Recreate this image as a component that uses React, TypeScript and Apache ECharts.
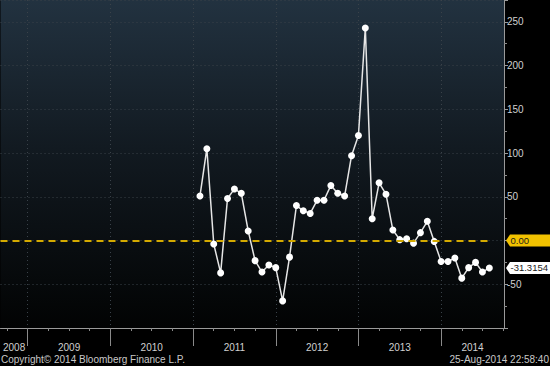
import React, { useEffect, useRef } from 'react';
import * as echarts from 'echarts';

const months: string[] = [
  '2011-02', '2011-03', '2011-04', '2011-05', '2011-06', '2011-07', '2011-08', '2011-09', '2011-10', '2011-11', '2011-12',
  '2012-01', '2012-02', '2012-03', '2012-04', '2012-05', '2012-06', '2012-07', '2012-08', '2012-09', '2012-10', '2012-11', '2012-12',
  '2013-01', '2013-02', '2013-03', '2013-04', '2013-05', '2013-06', '2013-07', '2013-08', '2013-09', '2013-10', '2013-11', '2013-12',
  '2014-01', '2014-02', '2014-03', '2014-04', '2014-05', '2014-06', '2014-07', '2014-08',
];
const values: number[] = [
  51, 105, -4, -37, 48, 59, 54, 11, -23, -36, -28,
  -31, -69, -19, 40, 34, 31, 46, 46, 63, 54, 51, 97,
  120, 243, 25, 66, 53, 12, 1, 2, -3, 9, 22, -1,
  -24, -24, -20, -43, -31, -25, -36, -31.3154,
];
const years: number[] = [2008, 2009, 2010, 2011, 2012, 2013, 2014];
const zeroLevel = 0;
const copyrightText = 'Copyright\u00A9 2014 Bloomberg Finance L.P.';
const stampText = '25-Aug-2014 22:58:40';

const BASE_YEAR = years[0];
const X_MIN = 8.05;
const X_MAX = 81.13;
const FONT = '"Liberation Sans", Arial, sans-serif';

const monthIndex = (m: string) => {
  const [y, mo] = m.split('-').map(Number);
  return (y - BASE_YEAR) * 12 + (mo - 1);
};

export default function App() {
  const ref = useRef<HTMLDivElement>(null);
  useEffect(() => {
    if (!ref.current) return;
    const chart = echarts.init(ref.current, undefined, { renderer: 'svg' });
    const data = months.map((m, i) => [monthIndex(m), values[i]]);
    const yearBounds = years.slice(1).map((y) => (y - BASE_YEAR) * 12);
    const yearCenters = years.map((y) => {
      const s = Math.max((y - BASE_YEAR) * 12, X_MIN);
      const e = Math.min((y - BASE_YEAR + 1) * 12, X_MAX);
      return (s + e) / 2;
    });
    const quarterTicks: number[] = [];
    for (let q = 0; q <= X_MAX; q += 3) {
      if (q % 12 !== 0 && q >= X_MIN) quarterTicks.push(q);
    }
    const lastX = data[data.length - 1][0];
    const lastV = values[values.length - 1];

    const option: any = {
      animation: false,
      backgroundColor: '#000000',
      grid: {
        left: 0,
        right: 46,
        top: -2,
        bottom: 38,
        show: true,
        borderWidth: 0,
        backgroundColor: new echarts.graphic.LinearGradient(0, 0, 0, 1, [
          { offset: 0, color: '#223240' },
          { offset: 0.45, color: '#121a21' },
          { offset: 1, color: '#020303' },
        ]),
      },
      xAxis: [
        {
          type: 'value',
          min: X_MIN,
          max: X_MAX,
          position: 'bottom',
          axisLine: { show: true, onZero: false, lineStyle: { color: '#9a9a9a', width: 1 } },
          axisTick: {
            show: true,
            customValues: yearBounds,
            length: 18,
            lineStyle: { color: '#8a8a8a', width: 1 },
          },
          axisLabel: {
            show: true,
            customValues: yearCenters,
            formatter: (v: number) => String(BASE_YEAR + Math.floor(v / 12)),
            color: '#d0d0d0',
            fontSize: 10,
            fontFamily: FONT,
            margin: 14,
          },
          splitLine: { show: true, lineStyle: { color: '#3a4249', type: [1, 3], width: 1 } },
        },
        {
          type: 'value',
          min: X_MIN,
          max: X_MAX,
          position: 'bottom',
          axisLine: { show: false, onZero: false },
          axisTick: {
            show: true,
            customValues: quarterTicks,
            length: 3,
            lineStyle: { color: '#8a8a8a', width: 1 },
          },
          axisLabel: { show: false },
          splitLine: { show: false },
        },
      ],
      yAxis: {
        type: 'value',
        position: 'right',
        min: -100,
        max: 275,
        interval: 50,
        axisLine: { show: true, onZero: false, lineStyle: { color: '#9a9a9a', width: 1 } },
        axisTick: { show: true, length: 4, lineStyle: { color: '#9a9a9a' } },
        minorTick: { show: true, splitNumber: 2, length: 3, lineStyle: { color: '#8a8a8a' } },
        axisLabel: {
          color: '#d0d0d0',
          fontSize: 10,
          fontFamily: FONT,
          margin: 3,
          showMinLabel: false,
          showMaxLabel: false,
          formatter: (v: number) => (v === zeroLevel ? '' : String(v)),
        },
        splitLine: { show: true, lineStyle: { color: '#3a4249', type: [1, 3], width: 1 } },
      },
      series: [
        {
          type: 'line',
          data,
          symbol: 'circle',
          symbolSize: 7,
          lineStyle: { color: '#e6e6e6', width: 1.5 },
          itemStyle: { color: '#ffffff', borderWidth: 0 },
          z: 3,
          markLine: {
            silent: true,
            symbol: 'none',
            label: { show: false },
            lineStyle: { color: '#d4aa00', width: 2, type: [7, 5] },
            data: [[{ coord: [X_MIN, zeroLevel] }, { coord: [lastX, zeroLevel] }]],
            z: 5,
          },
        },
      ],
    };
    chart.setOption(option);

    const y0 = chart.convertToPixel({ yAxisIndex: 0 }, zeroLevel) as number;
    const yL = chart.convertToPixel({ yAxisIndex: 0 }, lastV) as number;
    const axisX = chart.convertToPixel({ xAxisIndex: 0 }, X_MAX) as number;
    const tag = (y: number, fill: string, text: string) => [
      {
        type: 'polygon',
        z: 100,
        shape: {
          points: [
            [axisX + 2, y],
            [axisX + 6, y - 6],
            [550, y - 6],
            [550, y + 6],
            [axisX + 6, y + 6],
          ],
        },
        style: { fill },
      },
      {
        type: 'text',
        z: 101,
        x: axisX + 6.5,
        y,
        style: {
          text,
          fill: '#1a1a1a',
          font: `9.5px ${FONT}`,
          verticalAlign: 'middle',
          align: 'left',
        },
      },
    ];
    chart.setOption({
      graphic: [
        ...tag(y0, '#f2c200', zeroLevel.toFixed(2)),
        ...tag(yL, '#ffffff', String(lastV)),
        {
          type: 'text',
          x: 1,
          y: 359,
          z: 100,
          style: { text: copyrightText, fill: '#c8c8c8', font: `10px ${FONT}`, verticalAlign: 'middle', align: 'left' },
        },
        {
          type: 'text',
          x: 549,
          y: 359,
          z: 100,
          style: { text: stampText, fill: '#c8c8c8', font: `10px ${FONT}`, verticalAlign: 'middle', align: 'right' },
        },
      ],
    });
    return () => chart.dispose();
  }, []);
  return <div ref={ref} style={{ position: 'fixed', left: 0, top: 0, width: 550, height: 366 }} />;
}
